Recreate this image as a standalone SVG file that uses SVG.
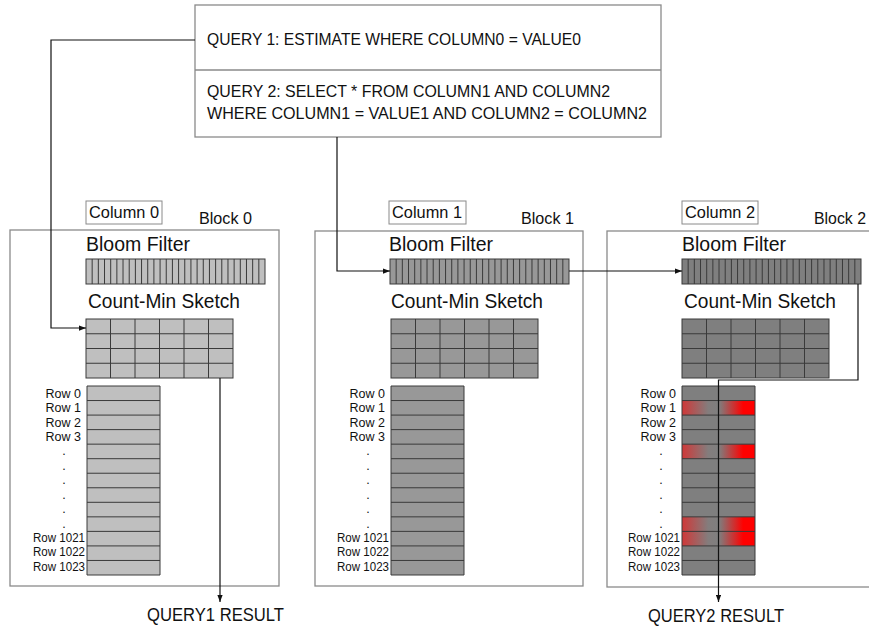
<svg xmlns="http://www.w3.org/2000/svg" width="869" height="630" viewBox="0 0 869 630">
  <style>
    text { font-family: "Liberation Sans", Arial, sans-serif; fill: #111; }
    .q { font-size: 17px; }
    .frame { fill: #fff; stroke: #8a8a8a; stroke-width: 1.3; }
    .tag { fill: #fff; stroke: #8a8a8a; stroke-width: 1; }
    .lbl { font-size: 17px; }
    .head { font-size: 20px; }
    .row { font-size: 12.5px; text-anchor: end; }
    .dot { font-size: 12.5px; text-anchor: middle; }
    .res { font-size: 18.5px; }
    .grid { fill: none; stroke: #3a3a3a; stroke-width: 1; }
    .wire { fill: none; stroke: #111; stroke-width: 1.2; }
    .c0 { fill: #bfbfbf; }
    .c1 { fill: #989898; }
    .c2 { fill: #7f7f7f; }
  </style>
  <defs>
    <marker id="arrow" viewBox="0 0 8 6" refX="8" refY="3" markerWidth="7" markerHeight="5.5" markerUnits="userSpaceOnUse" orient="auto">
      <path d="M0 0L8 3L0 6z" fill="#111"/>
    </marker>
    <linearGradient id="hit" x1="0" y1="0" x2="1" y2="0">
      <stop offset="0" stop-color="#d03838"/>
      <stop offset="0.36" stop-color="#837d7d"/>
      <stop offset="0.5" stop-color="#7f7f7f"/>
      <stop offset="0.54" stop-color="#8a7272"/>
      <stop offset="0.84" stop-color="#ff0000"/>
      <stop offset="1" stop-color="#ff0000"/>
    </linearGradient>
    <!-- bloom filter bit array: 29 cells -->
    <g id="bloom">
      <rect width="179" height="25" stroke="#3a3a3a" stroke-width="1"/>
      <path class="grid" d="M6.17 0V25M12.34 0V25M18.52 0V25M24.69 0V25M30.86 0V25M37.03 0V25M43.21 0V25M49.38 0V25M55.55 0V25M61.72 0V25M67.9 0V25M74.07 0V25M80.24 0V25M86.41 0V25M92.59 0V25M98.76 0V25M104.93 0V25M111.1 0V25M117.28 0V25M123.45 0V25M129.62 0V25M135.79 0V25M141.97 0V25M148.14 0V25M154.31 0V25M160.48 0V25M166.66 0V25M172.83 0V25"/>
    </g>
    <!-- count-min sketch: 4 x 6 counters -->
    <g id="cms">
      <rect width="147" height="59" stroke="#3a3a3a" stroke-width="1"/>
      <path class="grid" d="M24.5 0V59M49 0V59M73.5 0V59M98 0V59M122.5 0V59M0 14.75H147M0 29.5H147M0 44.25H147"/>
    </g>
    <!-- row stack outline and separators -->
    <path id="rowLines" class="grid" d="M0 0H73V189H0Z M0 14.54H73M0 29.08H73M0 43.62H73M0 58.15H73M0 72.69H73M0 87.23H73M0 101.77H73M0 116.31H73M0 130.85H73M0 145.38H73M0 159.92H73M0 174.46H73"/>
  </defs>

  <rect width="869" height="630" fill="#fff"/>

  <!-- query panel -->
  <g id="queries">
    <rect x="195" y="5" width="466" height="132" class="frame"/>
    <line x1="195" y1="70" x2="661" y2="70" stroke="#8a8a8a" stroke-width="1.3"/>
    <text class="q" x="207" y="45" textLength="374" lengthAdjust="spacingAndGlyphs">QUERY 1: ESTIMATE WHERE COLUMN0 = VALUE0</text>
    <text class="q" x="207" y="97" textLength="403" lengthAdjust="spacingAndGlyphs">QUERY 2: SELECT * FROM COLUMN1 AND COLUMN2</text>
    <text class="q" x="207" y="119" textLength="440" lengthAdjust="spacingAndGlyphs">WHERE COLUMN1 = VALUE1 AND COLUMN2 = COLUMN2</text>
  </g>

  <!-- block 0 -->
  <g id="block0">
    <rect x="10" y="230" width="269" height="356" class="frame"/>
    <rect x="86" y="201" width="76" height="23" class="tag"/>
    <text class="lbl" x="89" y="218" textLength="70" lengthAdjust="spacingAndGlyphs">Column 0</text>
    <text class="lbl" x="199" y="224" textLength="53" lengthAdjust="spacingAndGlyphs">Block 0</text>
    <text class="head" x="86" y="251" textLength="104" lengthAdjust="spacingAndGlyphs">Bloom Filter</text>
    <use href="#bloom" x="86" y="259" class="c0"/>
    <text class="head" x="88" y="308" textLength="152" lengthAdjust="spacingAndGlyphs">Count-Min Sketch</text>
    <use href="#cms" x="86" y="319" class="c0"/>
    <rect x="87" y="386" width="73" height="189" class="c0"/>
    <use href="#rowLines" x="87" y="386"/>
    <text class="row" x="81" y="397.5">Row 0</text>
    <text class="row" x="81" y="412">Row 1</text>
    <text class="row" x="81" y="426.5">Row 2</text>
    <text class="row" x="81" y="441">Row 3</text>
    <text class="dot" x="64" y="455">.</text>
    <text class="dot" x="64" y="469.5">.</text>
    <text class="dot" x="64" y="484">.</text>
    <text class="dot" x="64" y="498.5">.</text>
    <text class="dot" x="64" y="513">.</text>
    <text class="dot" x="64" y="527.5">.</text>
    <text class="row" x="85" y="541.5" textLength="52" lengthAdjust="spacingAndGlyphs">Row 1021</text>
    <text class="row" x="85" y="556" textLength="52" lengthAdjust="spacingAndGlyphs">Row 1022</text>
    <text class="row" x="85" y="570.5" textLength="52" lengthAdjust="spacingAndGlyphs">Row 1023</text>
  </g>

  <!-- block 1 -->
  <g id="block1">
    <rect x="315" y="231" width="268" height="355" class="frame"/>
    <rect x="389" y="201" width="77" height="23" class="tag"/>
    <text class="lbl" x="392" y="218" textLength="70" lengthAdjust="spacingAndGlyphs">Column 1</text>
    <text class="lbl" x="521" y="224" textLength="53" lengthAdjust="spacingAndGlyphs">Block 1</text>
    <text class="head" x="389" y="251" textLength="104" lengthAdjust="spacingAndGlyphs">Bloom Filter</text>
    <use href="#bloom" x="390" y="259" class="c1"/>
    <text class="head" x="391" y="308" textLength="152" lengthAdjust="spacingAndGlyphs">Count-Min Sketch</text>
    <use href="#cms" x="391" y="319" class="c1"/>
    <rect x="391" y="386" width="73" height="189" class="c1"/>
    <use href="#rowLines" x="391" y="386"/>
    <text class="row" x="385" y="397.5">Row 0</text>
    <text class="row" x="385" y="412">Row 1</text>
    <text class="row" x="385" y="426.5">Row 2</text>
    <text class="row" x="385" y="441">Row 3</text>
    <text class="dot" x="368" y="455">.</text>
    <text class="dot" x="368" y="469.5">.</text>
    <text class="dot" x="368" y="484">.</text>
    <text class="dot" x="368" y="498.5">.</text>
    <text class="dot" x="368" y="513">.</text>
    <text class="dot" x="368" y="527.5">.</text>
    <text class="row" x="389" y="541.5" textLength="52" lengthAdjust="spacingAndGlyphs">Row 1021</text>
    <text class="row" x="389" y="556" textLength="52" lengthAdjust="spacingAndGlyphs">Row 1022</text>
    <text class="row" x="389" y="570.5" textLength="52" lengthAdjust="spacingAndGlyphs">Row 1023</text>
  </g>

  <!-- block 2 (matching rows highlighted) -->
  <g id="block2">
    <rect x="607" y="231" width="280" height="356" class="frame"/>
    <rect x="682" y="201" width="76" height="23" class="tag"/>
    <text class="lbl" x="685" y="218" textLength="70" lengthAdjust="spacingAndGlyphs">Column 2</text>
    <text class="lbl" x="814" y="224" textLength="52" lengthAdjust="spacingAndGlyphs">Block 2</text>
    <text class="head" x="682" y="251" textLength="104" lengthAdjust="spacingAndGlyphs">Bloom Filter</text>
    <use href="#bloom" x="682" y="259" class="c2"/>
    <text class="head" x="684" y="308" textLength="152" lengthAdjust="spacingAndGlyphs">Count-Min Sketch</text>
    <use href="#cms" x="682" y="319" class="c2"/>
    <rect x="682" y="386" width="73" height="189" class="c2"/>
    <rect x="682" y="400.54" width="73" height="14.54" fill="url(#hit)"/>
    <rect x="682" y="444.15" width="73" height="14.54" fill="url(#hit)"/>
    <rect x="682" y="516.85" width="73" height="29.07" fill="url(#hit)"/>
    <use href="#rowLines" x="682" y="386"/>
    <text class="row" x="676" y="397.5">Row 0</text>
    <text class="row" x="676" y="412">Row 1</text>
    <text class="row" x="676" y="426.5">Row 2</text>
    <text class="row" x="676" y="441">Row 3</text>
    <text class="dot" x="661" y="455">.</text>
    <text class="dot" x="661" y="469.5">.</text>
    <text class="dot" x="661" y="484">.</text>
    <text class="dot" x="661" y="498.5">.</text>
    <text class="dot" x="661" y="513">.</text>
    <text class="dot" x="661" y="527.5">.</text>
    <text class="row" x="680" y="541.5" textLength="52" lengthAdjust="spacingAndGlyphs">Row 1021</text>
    <text class="row" x="680" y="556" textLength="52" lengthAdjust="spacingAndGlyphs">Row 1022</text>
    <text class="row" x="680" y="570.5" textLength="52" lengthAdjust="spacingAndGlyphs">Row 1023</text>
  </g>

  <!-- outputs -->
  <g id="result1">
    <text class="res" x="147" y="621" textLength="137" lengthAdjust="spacingAndGlyphs">QUERY1 RESULT</text>
  </g>
  <g id="result2">
    <text class="res" x="648" y="622" textLength="136" lengthAdjust="spacingAndGlyphs">QUERY2 RESULT</text>
  </g>

  <!-- connectors -->
  <g id="connectors" class="wire">
    <path d="M195 40H51V328H86" marker-end="url(#arrow)"/>
    <path d="M220 378V602" marker-end="url(#arrow)"/>
    <path d="M337 137V271H390" marker-end="url(#arrow)"/>
    <path d="M569 271H682" marker-end="url(#arrow)"/>
    <path d="M858 284V380H718.5V602" marker-end="url(#arrow)"/>
  </g>
</svg>
